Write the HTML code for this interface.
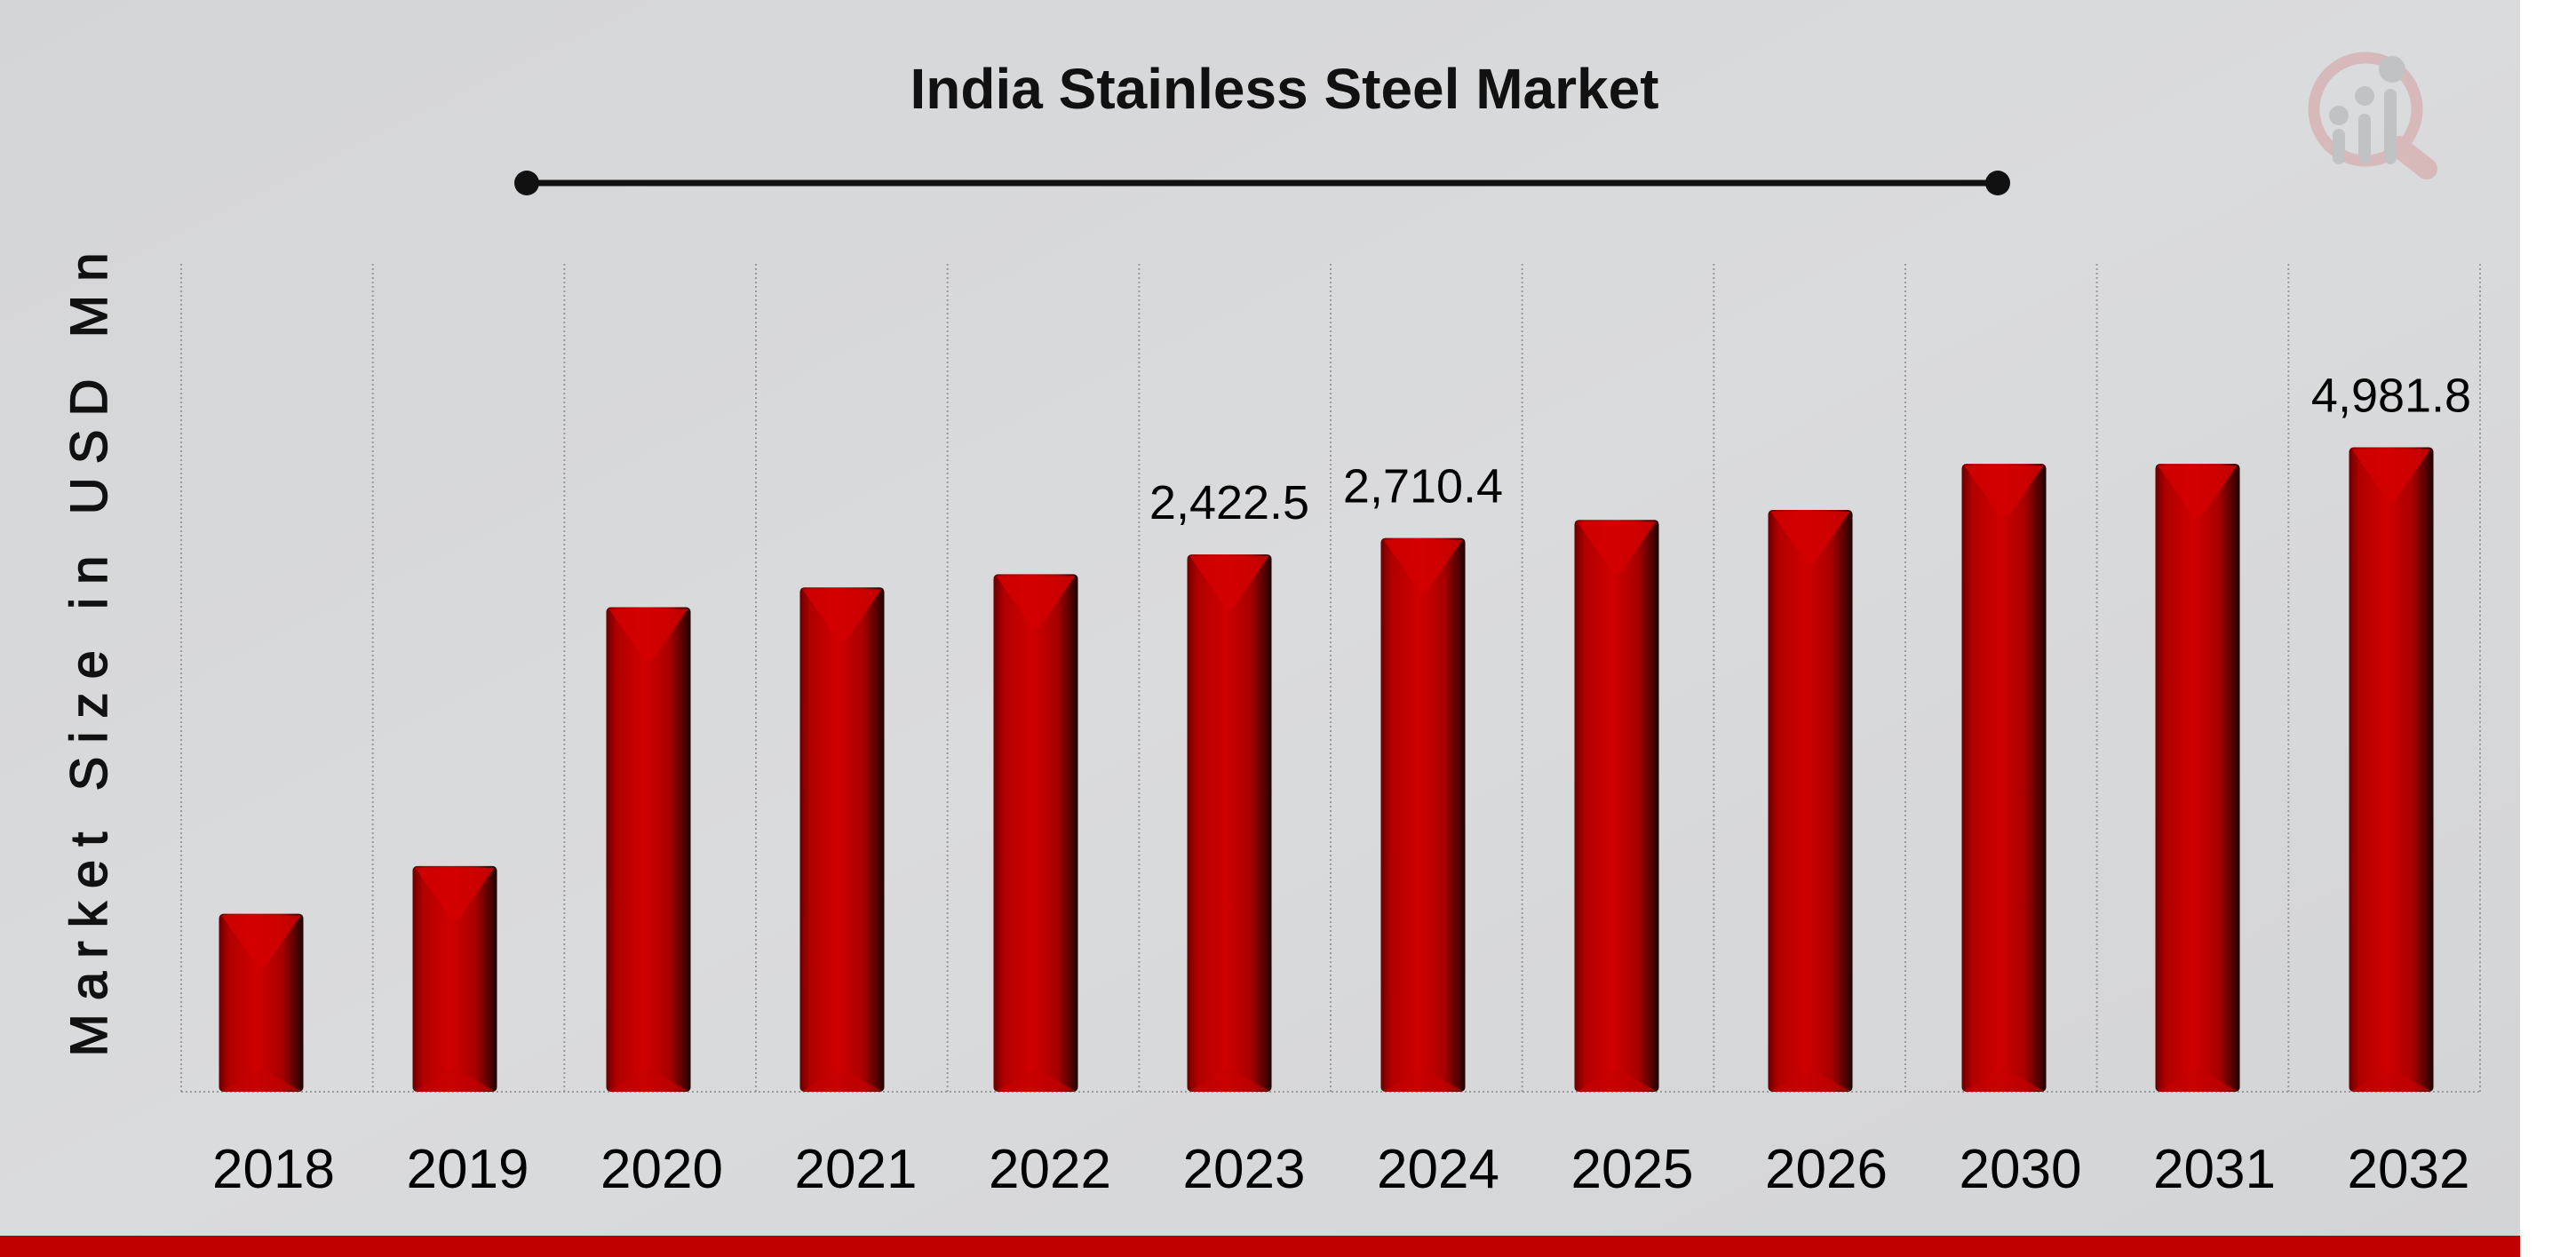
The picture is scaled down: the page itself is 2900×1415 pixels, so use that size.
<!DOCTYPE html>
<html><head><meta charset="utf-8"><style>
html,body{margin:0;padding:0;width:2900px;height:1415px;overflow:hidden;background:#fff}
svg{display:block}
</style></head><body>
<svg id="chart" width="2900" height="1415" viewBox="0 0 2900 1415" xmlns="http://www.w3.org/2000/svg">
<defs>
<linearGradient id="bg" x1="0" y1="0" x2="1" y2="1">
<stop offset="0" stop-color="#d4d5d7"/><stop offset="0.5" stop-color="#dadbdc"/><stop offset="1" stop-color="#d3d4d6"/>
</linearGradient>
<linearGradient id="barg" x1="0" y1="0" x2="1" y2="0">
<stop offset="0" stop-color="#6a0000"/><stop offset="0.12" stop-color="#b00000"/><stop offset="0.45" stop-color="#d00000"/><stop offset="0.75" stop-color="#a80000"/><stop offset="0.92" stop-color="#500000"/><stop offset="1" stop-color="#1a0000"/>
</linearGradient>
</defs>
<rect x="0" y="0" width="2837" height="1415" fill="url(#bg)"/>
<rect x="0" y="1391" width="2837" height="24" fill="#c00000"/>
<g opacity="0.75">
<circle cx="2663" cy="123" r="58" fill="none" stroke="#d8aeb0" stroke-width="13"/>
<line x1="2700" y1="165" x2="2732" y2="190" stroke="#d8aeb0" stroke-width="24" stroke-linecap="round"/>
<rect x="2626" y="145" width="14" height="40" rx="7" fill="#b9babc"/>
<rect x="2655" y="128" width="14" height="57" rx="7" fill="#b9babc"/>
<rect x="2684" y="100" width="14" height="85" rx="7" fill="#b9babc"/>
<circle cx="2633" cy="130" r="11" fill="#b9babc"/><circle cx="2662" cy="108" r="11" fill="#b9babc"/><circle cx="2693" cy="78" r="15" fill="#b9babc"/>
</g>
<text x="1446" y="122" text-anchor="middle" font-family="Liberation Sans, sans-serif" font-weight="bold" font-size="64" fill="#111">India Stainless Steel Market</text>
<g>
<line x1="593" y1="206" x2="2249" y2="206" stroke="#111" stroke-width="7"/>
<circle cx="593" cy="206" r="14" fill="#111"/><circle cx="2249" cy="206" r="14" fill="#111"/>
</g>
<text transform="translate(120,737) rotate(-90)" text-anchor="middle" font-family="Liberation Sans, sans-serif" font-size="58" fill="#111" stroke="#111" stroke-width="1.5" textLength="905" lengthAdjust="spacing">Market Size in USD Mn</text>
<g id="grid"></g>
<g id="bars"></g>
<g id="xlabels"></g>
<g id="vlabels"></g>
</svg>
<script>
const categories = ["2018","2019","2020","2021","2022","2023","2024","2025","2026","2030","2031","2032"];
const values = [1376,1745,3746,3899,4001,4154,4281,4421,4498,4854,4854,4982];
const valueLabels = ["","","","","","2,422.5","2,710.4","","","","","4,981.8"];
const yDomain = [0,6400];

const NS = "http://www.w3.org/2000/svg";
const plotTop = 297, plotBottom = 1229, plotLeft = 204, plotRight = 2792;
const n = categories.length;
const gridStep = (plotRight - plotLeft) / n;
function yScale(v){ return plotBottom - (v - yDomain[0]) / (yDomain[1] - yDomain[0]) * (plotBottom - plotTop); }
function barCenter(i){ return 294 + 218 * i; }
function labelCenter(i){ return 308 + 218.5 * i; }
function mk(tag, attrs){ const e = document.createElementNS(NS, tag); for (const k in attrs) e.setAttribute(k, attrs[k]); return e; }

const grid = document.getElementById('grid');
for (let i = 0; i <= n; i++) {
  const x = plotLeft + gridStep * i;
  const l = mk('line', {x1:x, y1:plotTop, x2:x, y2:plotBottom, stroke:'#9a9a9a', 'stroke-width':2, 'stroke-dasharray':'2,3'});
  
  
  grid.appendChild(l);
}
const base = mk('line', {x1:plotLeft, y1:plotBottom, x2:plotRight, y2:plotBottom, stroke:'#9a9a9a', 'stroke-width':2, 'stroke-dasharray':'2,3'});


grid.appendChild(base);

const bars = document.getElementById('bars');
const xl = document.getElementById('xlabels');
const vl = document.getElementById('vlabels');
const bw = 95;
values.forEach((v, i) => {
  const cx = barCenter(i), top = yScale(v), x0 = cx - bw/2, h = plotBottom - top;
  const g = mk('g', {});
  
  
  g.appendChild(mk('rect', {x:x0, y:top, width:bw, height:h, rx:5, fill:'url(#barg)'}));
  const th = Math.min(60, h/2);
  g.appendChild(mk('path', {d:`M${x0+3},${top+2} L${x0+bw-3},${top+2} L${cx+4},${top+th} L${cx-4},${top+th} Z`, fill:'#d40000', opacity:0.85}));
  const bh = Math.min(26, h/3);
  g.appendChild(mk('path', {d:`M${x0+3},${plotBottom-1} L${cx},${plotBottom-bh} L${x0+bw-3},${plotBottom-1} Z`, fill:'#c40000', opacity:0.7}));
  bars.appendChild(g);

  const t = mk('text', {x:labelCenter(i), y:1337, 'text-anchor':'middle', 'font-family':'Liberation Sans, sans-serif', 'font-size':62, fill:'#000'});
  t.textContent = categories[i];
  
  
  xl.appendChild(t);

  if (valueLabels[i]) {
    const vt = mk('text', {x:cx, y:top - 40, 'text-anchor':'middle', 'font-family':'Liberation Sans, sans-serif', 'font-size':54, fill:'#000'});
    vt.textContent = valueLabels[i];
    
    
    vl.appendChild(vt);
  }
});
</script>
</body></html>
